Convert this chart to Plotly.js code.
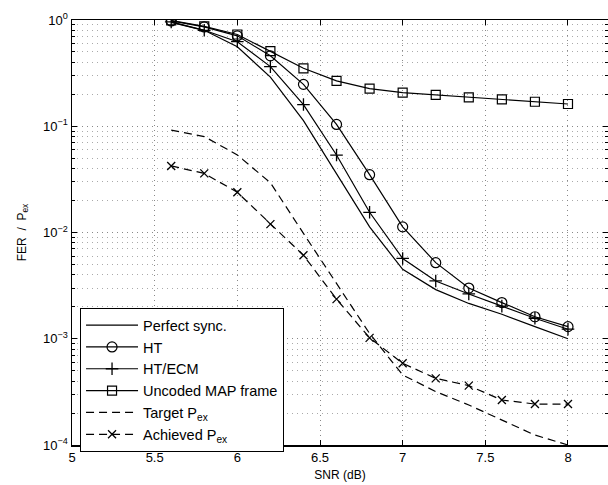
<!DOCTYPE html>
<html>
<head>
<meta charset="utf-8">
<script src="https://cdn.plot.ly/plotly-3.0.1.min.js"></script>
<style>html,body{margin:0;padding:0;background:#fff}</style>
</head>
<body>
<div id="chart" style="width:608px;height:485px"></div>
<script>
const snr = [5.6, 5.8, 6.0, 6.2, 6.4, 6.6, 6.8, 7.0, 7.2, 7.4, 7.6, 7.8, 8.0];
const perfectSync = [0.95, 0.80, 0.56, 0.29, 0.113, 0.036, 0.0113, 0.0045, 0.0029, 0.00215, 0.0017, 0.0013, 0.001];
const ht = [0.98, 0.86, 0.71, 0.46, 0.248, 0.104, 0.0350, 0.0113, 0.0052, 0.0030, 0.00219, 0.00161, 0.0013];
const htEcm = [0.96, 0.80, 0.625, 0.364, 0.160, 0.0536, 0.0155, 0.0057, 0.0035, 0.00264, 0.00203, 0.00156, 0.00123];
const uncodedMap = [0.99, 0.87, 0.73, 0.51, 0.351, 0.267, 0.226, 0.207, 0.197, 0.187, 0.179, 0.170, 0.162];
const targetPex = [0.092, 0.080, 0.0537, 0.0294, 0.0098, 0.0033, 0.00112, 0.000456, 0.000318, 0.000238, 0.000172, 0.000124, 0.000100];
const achievedPex = [0.0423, 0.036, 0.0239, 0.012, 0.0061, 0.00236, 0.00102, 0.000587, 0.000424, 0.000362, 0.000265, 0.000243, 0.000243];

const seriesNames = ['Perfect sync.', 'HT', 'HT/ECM', 'Uncoded MAP frame', 'Target P<sub>ex</sub>', 'Achieved P<sub>ex</sub>'];
const xTickVals = [5, 5.5, 6, 6.5, 7, 7.5, 8];
const xTickText = ['5', '5.5', '6', '6.5', '7', '7.5', '8'];
const yTickVals = [1e-4, 1e-3, 1e-2, 1e-1, 1];
const yTickText = ['10<sup>−4</sup>', '10<sup>−3</sup>', '10<sup>−2</sup>', '10<sup>−1</sup>', '10<sup>0</sup>'];
const yMinorMantissas = [2, 3, 4, 5, 6, 7, 8, 9];
const yMinorDecades = [1e-4, 1e-3, 1e-2, 1e-1];
const yMinorVals = [];
yMinorDecades.forEach(d => yMinorMantissas.forEach(m => yMinorVals.push(m * d)));

const lw = 1.2;
const dashStyle = '8px,5px';
const gridDash = '1px,4px';
const traces = [
  {x: snr, y: perfectSync, name: seriesNames[0], mode: 'lines', line: {color: '#000', width: lw}},
  {x: snr, y: ht, name: seriesNames[1], mode: 'lines+markers', line: {color: '#000', width: lw},
   marker: {symbol: 'circle-open', size: 10, color: '#000', line: {width: 1.2, color: '#000'}}},
  {x: snr, y: htEcm, name: seriesNames[2], mode: 'lines+markers', line: {color: '#000', width: lw},
   marker: {symbol: 'cross-thin-open', size: 9, color: '#000', line: {width: 1.3, color: '#000'}}},
  {x: snr, y: uncodedMap, name: seriesNames[3], mode: 'lines+markers', line: {color: '#000', width: lw},
   marker: {symbol: 'square-open', size: 9, color: '#000', line: {width: 1.2, color: '#000'}}},
  {x: snr, y: targetPex, name: seriesNames[4], mode: 'lines', line: {color: '#000', width: lw, dash: dashStyle}},
  {x: snr, y: achievedPex, name: seriesNames[5], mode: 'lines+markers', line: {color: '#000', width: lw, dash: dashStyle},
   marker: {symbol: 'x-thin-open', size: 8, color: '#000', line: {width: 1.3, color: '#000'}}}
];

const font = {family: 'Liberation Sans, Arial, Helvetica, sans-serif', size: 12, color: '#000'};
const layout = {
  width: 608, height: 485,
  margin: {l: 72, r: 0, t: 20, b: 40, pad: 0},
  paper_bgcolor: '#fff', plot_bgcolor: '#fff',
  font: font,
  showlegend: true,
  legend: {
    x: 0.015, y: 0.322, xanchor: 'left', yanchor: 'top',
    bgcolor: '#fff', bordercolor: '#000', borderwidth: 1,
    font: {family: font.family, size: 14.5, color: '#000'},
    tracegroupgap: 0, itemwidth: 52
  },
  xaxis: {
    type: 'linear', range: [5, 8.242], autorange: false,
    tickvals: xTickVals, ticktext: xTickText,
    ticks: 'inside', ticklen: 5, tickcolor: '#000', tickwidth: 1,
    showline: true, linecolor: '#000', linewidth: 1.5, mirror: 'ticks',
    showgrid: true, gridcolor: '#888', gridwidth: 1, griddash: gridDash,
    zeroline: false,
    tickfont: {family: font.family, size: 13, color: '#000'},
    title: {text: 'SNR (dB)', font: {family: font.family, size: 12, color: '#000'}, standoff: 6}
  },
  yaxis: {
    type: 'log', range: [-4, 0], autorange: false,
    tickvals: yTickVals, ticktext: yTickText,
    ticks: 'inside', ticklen: 5, tickcolor: '#000', tickwidth: 1,
    showline: true, linecolor: '#000', linewidth: 1.5, mirror: 'ticks',
    showgrid: true, gridcolor: '#888', gridwidth: 1, griddash: gridDash,
    minor: {tickmode: 'array', tickvals: yMinorVals, ticks: 'inside', ticklen: 3, tickcolor: '#000',
            showgrid: true, gridcolor: '#aaa', gridwidth: 1, griddash: gridDash},
    zeroline: false,
    tickfont: {family: font.family, size: 13, color: '#000'},
    title: {text: 'FER  /  P<sub>ex</sub>', font: {family: font.family, size: 12, color: '#000'}, standoff: 14}
  }
};

Plotly.newPlot('chart', traces, layout, {displayModeBar: false, staticPlot: true});
</script>
</body>
</html>
